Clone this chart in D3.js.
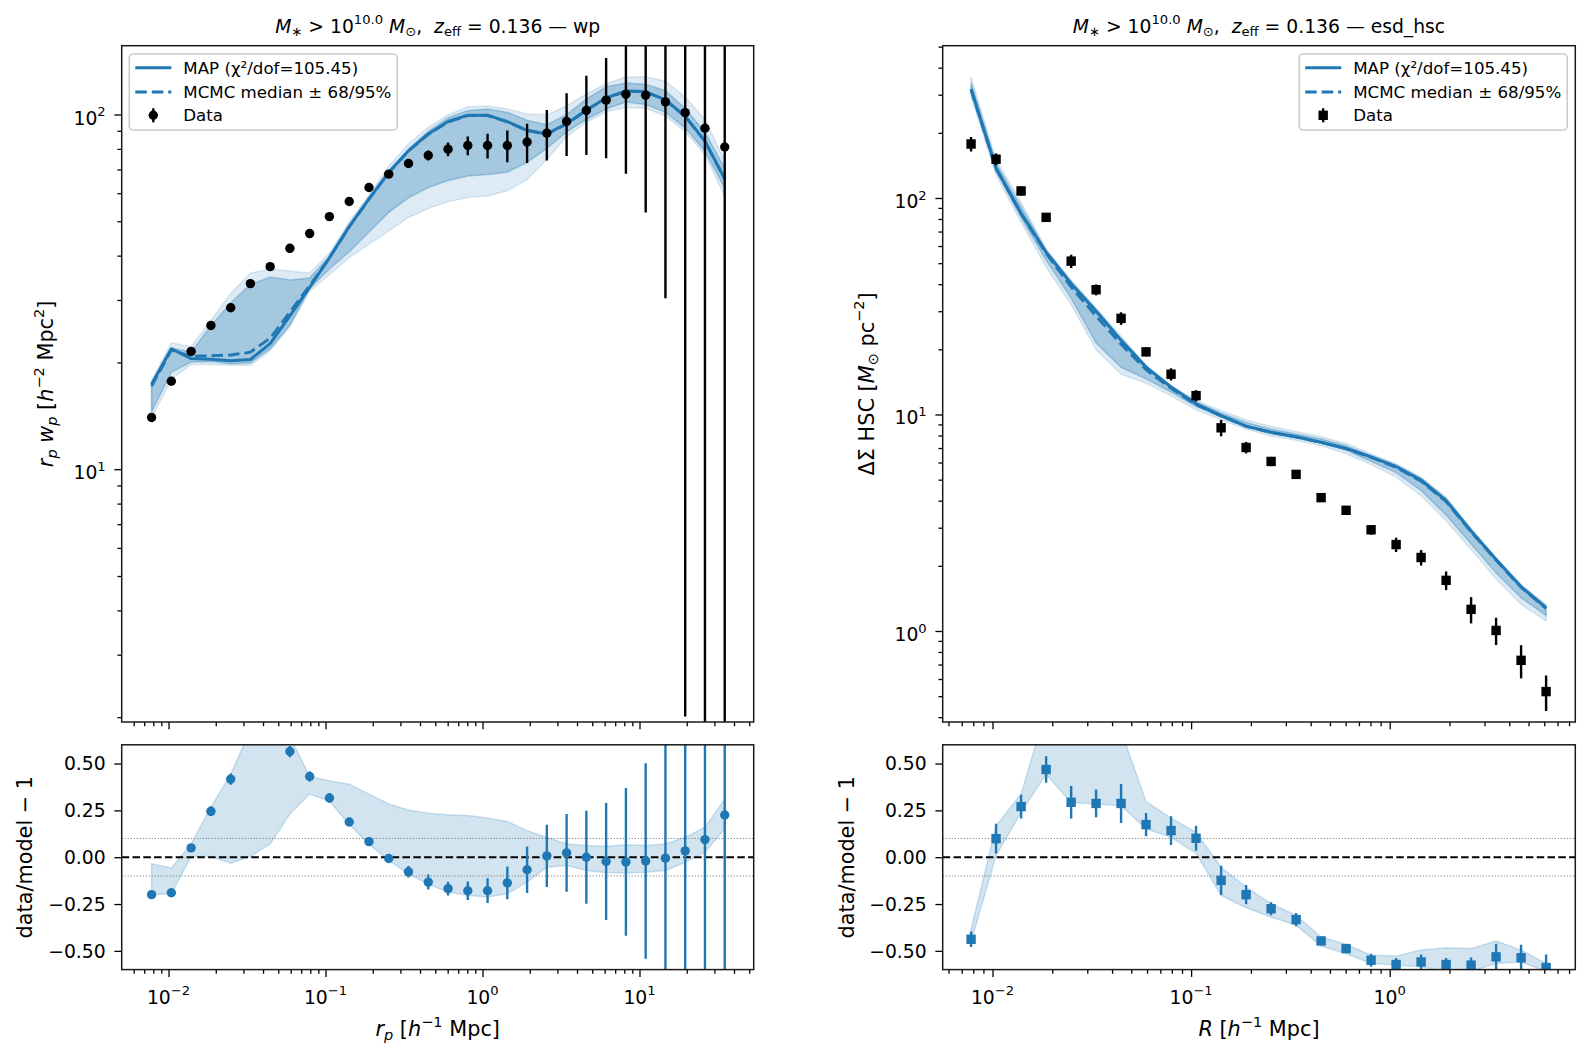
<!DOCTYPE html>
<html><head><meta charset="utf-8"><title>wp / esd_hsc fit</title>
<script src="https://cdn.jsdelivr.net/npm/d3@7/dist/d3.min.js"></script>
<style>
html,body{margin:0;padding:0;background:#fff;}
svg{display:block;font-family:"DejaVu Sans",sans-serif;}
text{white-space:pre;}
</style></head><body>
<svg id="fig" width="1589" height="1062" viewBox="0 0 1589 1062"></svg>
<script>
// ================= DATA =================
// projected radii (h^-1 Mpc), shared binning
const rpBins = [0.00780, 0.01042, 0.01393, 0.01862, 0.02489, 0.03323, 0.04440, 0.05930, 0.07925, 0.1059,
  0.1416, 0.1892, 0.2528, 0.3378, 0.4514, 0.6031, 0.8057, 1.077, 1.439, 1.923,
  2.569, 3.433, 4.587, 6.130, 8.194, 10.95, 14.63, 19.55, 26.12, 34.91];
const rBinsEsd = [0.00780, 0.01042, 0.01393, 0.01862, 0.02489, 0.03323, 0.04440, 0.05930, 0.07925, 0.1059,
  0.1416, 0.1892, 0.2528, 0.3378, 0.4514, 0.6031, 0.8057, 1.077, 1.439, 1.923,
  2.569, 3.433, 4.587, 6.130];

// ---- wp panel ----
const wpData = [13.99, 17.70, 21.48, 25.43, 28.53, 33.36, 37.25, 41.95, 46.17, 51.54, 56.86, 62.26, 67.90, 72.77, 76.69,
  79.84, 81.75, 81.75, 81.75, 83.63, 88.62, 95.58, 102.73, 109.78, 114.06, 113.30, 108.54, 101.21, 91.48, 80.98];
const wpErr = [0.39, 0.39, 0.49, 0.49, 0.58, 0.58, 0.68, 0.77, 0.87, 0.97, 1.06, 1.25, 1.44, 2.12, 2.5,
  3.56, 5.0, 6.54, 8.37, 10.58, 14.42, 19.2, 25.9, 34.5, 46.0, 60.4, 78.2, 99.2, 125.0, 154.0];
const wpMAP = [17.37, 21.86, 20.51, 20.41, 20.22, 20.39, 22.60, 27.04, 32.55, 39.47, 48.36, 57.85, 68.69, 79.09, 88.15,
  95.58, 99.57, 99.57, 95.49, 90.28, 88.15, 94.16, 102.92, 111.31, 116.56, 116.09, 109.88, 98.92, 84.15, 65.88];
const wpMedian = [17.13, 21.67, 20.80, 20.90, 20.99, 21.38, 23.41, 27.76, 32.93, 39.37, 48.18, 57.67, 68.48, 78.88, 87.86,
  95.30, 99.30, 99.30, 95.30, 90.08, 87.96, 93.97, 102.73, 111.12, 116.34, 115.87, 109.69, 98.73, 83.95, 65.61];
const wpHi68 = [17.46, 21.96, 21.40, 25.33, 29.47, 33.21, 34.81, 34.18, 34.61, 39.75, 48.47, 58.14, 69.15, 79.84, 89.58,
  97.97, 102.55, 103.69, 101.40, 96.34, 93.58, 99.97, 110.54, 119.68, 122.72, 121.77, 116.71, 103.98, 89.10, 70.50];
const wpLo68 = [14.50, 18.77, 20.06, 20.12, 19.82, 19.93, 21.86, 25.52, 32.35, 36.68, 41.00, 46.65, 52.97, 58.24, 62.26,
  65.14, 67.05, 67.72, 68.77, 73.26, 80.23, 89.28, 96.82, 103.69, 108.46, 106.74, 101.40, 91.57, 78.89, 61.97];
const wpHi95 = [17.80, 22.73, 22.15, 26.30, 31.30, 35.72, 36.69, 36.20, 35.72, 40.62, 49.82, 59.29, 71.53, 82.72, 92.06,
  99.78, 105.12, 105.60, 103.69, 100.35, 99.78, 105.79, 114.17, 122.26, 127.48, 127.67, 124.09, 112.07, 96.93, 74.15];
const wpLo95 = [13.94, 17.91, 19.73, 19.73, 19.64, 19.64, 21.57, 25.23, 31.77, 35.34, 39.47, 43.11, 46.94, 51.25, 54.33,
  56.73, 58.34, 58.91, 60.92, 65.63, 74.70, 86.54, 95.11, 101.78, 104.64, 104.16, 98.92, 89.39, 76.97, 58.81];
const wpResid = [-0.200, -0.190, 0.050, 0.245, 0.417, 0.640, 0.657, 0.564, 0.431, 0.316, 0.188, 0.083, -0.007, -0.078, -0.133,
  -0.168, -0.179, -0.179, -0.137, -0.067, 0.007, 0.023, 0.000, -0.023, -0.025, -0.020, -0.005, 0.034, 0.094, 0.225];
const wpResidErr = [0.02, 0.02, 0.02, 0.025, 0.03, 0.03, 0.03, 0.03, 0.027, 0.025, 0.022, 0.022, 0.022, 0.031, 0.040,
  0.037, 0.049, 0.066, 0.087, 0.124, 0.166, 0.208, 0.248, 0.312, 0.394, 0.522, 0.71, 1.0, 1.49, 2.34];
const wpResidLo = [-0.200, -0.195, 0.004, 0.004, -0.032, 0.004, 0.071, 0.230, 0.337, 0.300, 0.175, 0.071, -0.018, -0.089, -0.145,
  -0.186, -0.204, -0.213, -0.195, -0.133, -0.053, -0.044, -0.071, -0.083, -0.085, -0.080, -0.071, -0.027, 0.027, 0.151];
const wpResidHi = [-0.035, -0.057, 0.071, 0.266, 0.443, 0.680, 0.710, 0.645, 0.431, 0.408, 0.390, 0.337, 0.284, 0.252, 0.234,
  0.227, 0.222, 0.209, 0.191, 0.142, 0.106, 0.071, 0.062, 0.059, 0.067, 0.062, 0.071, 0.106, 0.160, 0.310];

// ---- esd_hsc panel ----
const esdData = [177.6, 151.1, 107.8, 81.4, 51.1, 37.7, 27.8, 19.47, 15.35, 12.22, 8.68, 7.04, 6.07, 5.29, 4.13,
  3.61, 2.934, 2.507, 2.185, 1.714, 1.259, 1.006, 0.732, 0.525];
const esdErr = [13.5, 9.6, 5.6, 3.9, 3.6, 2.2, 1.85, 0.92, 1.0, 0.73, 0.75, 0.43, 0.3, 0.25, 0.15,
  0.12, 0.15, 0.19, 0.18, 0.17, 0.175, 0.145, 0.128, 0.098];
const esdMAP = [318.7, 137.4, 85.0, 56.2, 40.2, 30.0, 22.0, 16.55, 13.4, 11.2, 9.88, 8.84, 8.28, 7.9, 7.45,
  6.97, 6.37, 5.75, 4.97, 4.0, 2.9, 2.137, 1.6, 1.28];
const esdMedian = [316.0, 136.5, 84.5, 55.4, 38.8, 28.5, 21.1, 16.1, 13.2, 11.1, 9.85, 8.82, 8.26, 7.88, 7.43,
  6.95, 6.33, 5.7, 4.92, 3.96, 2.87, 2.12, 1.59, 1.27];
const esdHi68 = [340.7, 144.8, 91.3, 57.3, 41.1, 30.6, 22.45, 16.7, 13.4, 11.45, 10.15, 9.19, 8.55, 8.12, 7.70,
  7.17, 6.46, 5.85, 5.07, 4.09, 2.935, 2.154, 1.62, 1.307];
const esdLo68 = [306.9, 133.5, 81.1, 51.6, 34.4, 21.4, 16.49, 14.6, 12.7, 10.9, 9.72, 8.76, 8.16, 7.78, 7.38,
  6.84, 6.07, 5.39, 4.46, 3.43, 2.52, 1.851, 1.425, 1.178];
const esdHi95 = [362.5, 150.4, 95.7, 58.1, 41.7, 31.0, 23.0, 16.9, 13.6, 11.65, 10.4, 9.45, 8.80, 8.35, 7.89,
  7.35, 6.59, 5.93, 5.14, 4.15, 2.977, 2.185, 1.643, 1.326];
const esdLo95 = [292.6, 127.3, 77.3, 48.0, 32.1, 19.9, 15.35, 13.96, 12.2, 10.5, 9.45, 8.55, 7.96, 7.60, 7.17,
  6.59, 5.87, 5.14, 4.21, 3.23, 2.38, 1.74, 1.326, 1.113];
const esdResid = [-0.438, 0.099, 0.270, 0.468, 0.293, 0.287, 0.287, 0.174, 0.142, 0.101, -0.124, -0.200, -0.275, -0.333, -0.447,
  -0.488, -0.550, -0.573, -0.559, -0.573, -0.576, -0.532, -0.537, -0.589];
const esdResidErr = [0.042, 0.079, 0.064, 0.071, 0.087, 0.074, 0.104, 0.062, 0.077, 0.067, 0.078, 0.051, 0.035, 0.035, 0.02,
  0.02, 0.035, 0.035, 0.04, 0.035, 0.04, 0.07, 0.07, 0.07];
const esdResidLo = [-0.452, 0.009, 0.239, 0.443, 0.290, 0.284, 0.275, 0.151, 0.106, 0.021, -0.204, -0.270, -0.319, -0.363, -0.475,
  -0.514, -0.567, -0.576, -0.585, -0.610, -0.610, -0.567, -0.559, -0.610];
const esdResidHi = [-0.385, 0.168, 0.337, 0.790, 0.850, 0.800, 0.675, 0.298, 0.209, 0.133, -0.053, -0.160, -0.248, -0.310, -0.426,
  -0.465, -0.523, -0.528, -0.496, -0.484, -0.488, -0.447, -0.496, -0.567];

// ---- axes settings ----
const xLimWp = [0.005032, 53.39];
const xLimEsd = [0.005613, 8.6];
const yLimWp = [1.938, 156.3];
const yLimEsd = [0.3799, 505.2];
const residLim = [-0.6, 0.6];
const xMajorWp = [0.01, 0.1, 1, 10];
const xMajorEsd = [0.01, 0.1, 1];
const yMajorWp = [10, 100];
const yMajorEsd = [1, 10, 100];
const residTicks = [-0.5, -0.25, 0, 0.25, 0.5];
const residTickLabels = ["\u22120.50", "\u22120.25", "0.00", "0.25", "0.50"];
const residBandLines = [-0.1, 0.1];
const legendLabels = ["MAP (\u03c7\u00b2/dof=105.45)", "MCMC median \u00b1 68/95%", "Data"];

// ================= LAYOUT / STYLE =================
const BLUE = "#1f77b4";
const FS = {tick: 18.75, label: 20.8, legend: 16.67, title: 18.75};
const TK = {major: 7.3, minor: 4.2, w: 1.3, pad: 16};
const AX = {
  wp:   {x0: 121.7, x1: 753.7, y0: 45.7, y1: 722},
  esd:  {x0: 942.7, x1: 1575.3, y0: 45.7, y1: 722},
  wpR:  {x0: 121.7, x1: 753.7, y0: 744.8, y1: 969.6},
  esdR: {x0: 942.7, x1: 1575.3, y0: 744.8, y1: 969.6}
};

const svg = d3.select("#fig");
const defs = svg.append("defs");
svg.append("rect").attr("width", 1589).attr("height", 1062).attr("fill", "#fff");

const xWp = d3.scaleLog().domain(xLimWp).range([AX.wp.x0, AX.wp.x1]);
const xEsd = d3.scaleLog().domain(xLimEsd).range([AX.esd.x0, AX.esd.x1]);
const yWp = d3.scaleLog().domain(yLimWp).range([AX.wp.y1, AX.wp.y0]);
const yEsd = d3.scaleLog().domain(yLimEsd).range([AX.esd.y1, AX.esd.y0]);
const yWpR = d3.scaleLinear().domain(residLim).range([AX.wpR.y1, AX.wpR.y0]);
const yEsdR = d3.scaleLinear().domain(residLim).range([AX.esdR.y1, AX.esdR.y0]);

function rich(sel, parts, fs) {
  let cur = 0;
  parts.forEach(p => {
    const [s, o] = typeof p === "string" ? [p, {}] : p;
    const t = sel.append("tspan").text(s);
    let shift = 0, size = fs;
    if (o.sup) { shift = -0.45 * fs; size = 0.7 * fs; }
    if (o.sub) { shift = 0.2 * fs; size = 0.7 * fs; }
    t.attr("font-size", size);
    if (shift !== cur) t.attr("dy", shift - cur);
    if (o.it) t.attr("font-style", "italic");
    cur = shift;
  });
  return sel;
}
function expParts(v) {
  const e = Math.round(Math.log10(v));
  return ["10", [e < 0 ? "\u2212" + (-e) : String(e), {sup: true}]];
}
function clipFor(id, a) {
  defs.append("clipPath").attr("id", id).append("rect")
    .attr("x", a.x0).attr("y", a.y0).attr("width", a.x1 - a.x0).attr("height", a.y1 - a.y0);
  return svg.append("g").attr("clip-path", `url(#${id})`);
}
function isMajor(v, majors) { return majors.some(m => Math.abs(Math.log10(v / m)) < 1e-6); }

function styleAxis(s) {
  s.select(".domain").remove();
  s.selectAll("line").attr("stroke", "#000").attr("stroke-width", TK.w);
  s.selectAll("text").remove();
}
function xAxisLog(scale, a, majors, labels) {
  const minors = scale.ticks().filter(v => !isMajor(v, majors));
  svg.append("g").attr("transform", `translate(0,${a.y1})`)
    .call(d3.axisBottom(scale).tickValues(minors).tickSize(TK.minor).tickSizeOuter(0)).call(styleAxis);
  svg.append("g").attr("transform", `translate(0,${a.y1})`)
    .call(d3.axisBottom(scale).tickValues(majors).tickSize(TK.major).tickSizeOuter(0)).call(styleAxis);
  if (labels) majors.forEach(v => {
    rich(svg.append("text").attr("x", scale(v)).attr("y", a.y1 + 34).attr("text-anchor", "middle")
      .attr("font-size", FS.tick).attr("fill", "#000"), expParts(v), FS.tick);
  });
}
function yAxisLog(scale, a, majors) {
  const minors = scale.ticks().filter(v => !isMajor(v, majors));
  svg.append("g").attr("transform", `translate(${a.x0},0)`)
    .call(d3.axisLeft(scale).tickValues(minors).tickSize(TK.minor).tickSizeOuter(0)).call(styleAxis);
  svg.append("g").attr("transform", `translate(${a.x0},0)`)
    .call(d3.axisLeft(scale).tickValues(majors).tickSize(TK.major).tickSizeOuter(0)).call(styleAxis);
  majors.forEach(v => {
    rich(svg.append("text").attr("x", a.x0 - TK.pad).attr("y", scale(v) + 10).attr("text-anchor", "end")
      .attr("font-size", FS.tick).attr("fill", "#000"), expParts(v), FS.tick);
  });
}
function yAxisLin(scale, a) {
  svg.append("g").attr("transform", `translate(${a.x0},0)`)
    .call(d3.axisLeft(scale).tickValues(residTicks).tickSize(TK.major).tickSizeOuter(0)).call(styleAxis);
  residTicks.forEach((v, i) => {
    svg.append("text").attr("x", a.x0 - TK.pad).attr("y", scale(v) + 6.8).attr("text-anchor", "end")
      .attr("font-size", FS.tick).attr("fill", "#000").text(residTickLabels[i]);
  });
}
function spine(a) {
  svg.append("rect").attr("x", a.x0).attr("y", a.y0).attr("width", a.x1 - a.x0).attr("height", a.y1 - a.y0)
    .attr("fill", "none").attr("stroke", "#1a1a1a").attr("stroke-width", 1.5);
}

function band(g, xS, yS, xs, lo, hi, op) {
  const idx = xs.map((_, i) => i);
  const ar = d3.area().x(i => xS(xs[i])).y0(i => yS(lo[i])).y1(i => yS(hi[i]));
  g.append("path").attr("d", ar(idx)).attr("fill", BLUE).attr("fill-opacity", op)
    .attr("stroke", BLUE).attr("stroke-opacity", op).attr("stroke-width", 1.5);
}
function curve(g, xS, yS, xs, ys, dash) {
  const ln = d3.line().x((d, i) => xS(xs[i])).y(d => yS(d));
  const p = g.append("path").attr("d", ln(ys)).attr("fill", "none").attr("stroke", BLUE)
    .attr("stroke-width", 3).attr("stroke-linejoin", "round");
  if (dash) p.attr("stroke-dasharray", "11.5,5").attr("stroke-width", 2.8);
}
function points(g, xS, yS, xs, ys, es, color, shape, isLog) {
  const bottom = yS.range()[0] + 40, top = yS.range()[1] - 40;
  xs.forEach((x, i) => {
    const cx = xS(x);
    const lo = ys[i] - es[i], hi = ys[i] + es[i];
    const y1 = isLog ? (lo > 0 ? yS(lo) : bottom) : yS(lo);
    const y2 = yS(hi);
    g.append("line").attr("x1", cx).attr("x2", cx).attr("y1", Math.min(y1, bottom)).attr("y2", Math.max(y2, top))
      .attr("stroke", color).attr("stroke-width", 2.4);
  });
  xs.forEach((x, i) => {
    const cx = xS(x), cy = yS(ys[i]);
    if (shape === "o") g.append("circle").attr("cx", cx).attr("cy", cy).attr("r", 4.7).attr("fill", color);
    else g.append("rect").attr("x", cx - 4.7).attr("y", cy - 4.7).attr("width", 9.4).attr("height", 9.4).attr("fill", color);
  });
}
function legend(bx, by, shape) {
  const g = svg.append("g");
  g.append("rect").attr("x", bx).attr("y", by).attr("width", 268).attr("height", 76).attr("rx", 4)
    .attr("fill", "#fff").attr("fill-opacity", 0.8).attr("stroke", "#cccccc").attr("stroke-width", 1.6);
  const hx0 = bx + 6, hx1 = bx + 42, hc = bx + 24, tx = bx + 54;
  const rows = [by + 13.7, by + 38, by + 61.3];
  g.append("line").attr("x1", hx0).attr("x2", hx1).attr("y1", rows[0]).attr("y2", rows[0])
    .attr("stroke", BLUE).attr("stroke-width", 3);
  g.append("line").attr("x1", hx0).attr("x2", hx1).attr("y1", rows[1]).attr("y2", rows[1])
    .attr("stroke", BLUE).attr("stroke-width", 2.8).attr("stroke-dasharray", "11.5,5");
  g.append("line").attr("x1", hc).attr("x2", hc).attr("y1", rows[2] - 7).attr("y2", rows[2] + 7)
    .attr("stroke", "#000").attr("stroke-width", 2.4);
  if (shape === "o") g.append("circle").attr("cx", hc).attr("cy", rows[2]).attr("r", 4.7).attr("fill", "#000");
  else g.append("rect").attr("x", hc - 4.7).attr("y", rows[2] - 4.7).attr("width", 9.4).attr("height", 9.4).attr("fill", "#000");
  legendLabels.forEach((t, i) => {
    g.append("text").attr("x", tx).attr("y", rows[i] + 6).attr("font-size", FS.legend).attr("fill", "#000").text(t);
  });
}

// ================= TOP: wp =================
{
  const g = clipFor("cWp", AX.wp);
  band(g, xWp, yWp, rpBins, wpLo95, wpHi95, 0.15);
  band(g, xWp, yWp, rpBins, wpLo68, wpHi68, 0.3);
  curve(g, xWp, yWp, rpBins, wpMedian, true);
  curve(g, xWp, yWp, rpBins, wpMAP, false);
  points(g, xWp, yWp, rpBins, wpData, wpErr, "#000", "o", true);
  xAxisLog(xWp, AX.wp, xMajorWp, false);
  yAxisLog(yWp, AX.wp, yMajorWp);
  spine(AX.wp);
  legend(129.3, 54, "o");
}
// ================= TOP: esd =================
{
  const g = clipFor("cEsd", AX.esd);
  band(g, xEsd, yEsd, rBinsEsd, esdLo95, esdHi95, 0.15);
  band(g, xEsd, yEsd, rBinsEsd, esdLo68, esdHi68, 0.3);
  curve(g, xEsd, yEsd, rBinsEsd, esdMedian, true);
  curve(g, xEsd, yEsd, rBinsEsd, esdMAP, false);
  points(g, xEsd, yEsd, rBinsEsd, esdData, esdErr, "#000", "s", true);
  xAxisLog(xEsd, AX.esd, xMajorEsd, false);
  yAxisLog(yEsd, AX.esd, yMajorEsd);
  spine(AX.esd);
  legend(1299.2, 54, "s");
}
// ================= RESIDUALS =================
function residPanel(id, a, xS, yS, xs, res, err, lo, hi, shape) {
  const g = clipFor(id, a);
  band(g, xS, yS, xs, lo, hi, 0.2);
  residBandLines.forEach(v => g.append("line").attr("x1", a.x0).attr("x2", a.x1).attr("y1", yS(v)).attr("y2", yS(v))
    .attr("stroke", "#808080").attr("stroke-width", 1).attr("stroke-dasharray", "1.2,1.8"));
  g.append("line").attr("x1", a.x0).attr("x2", a.x1).attr("y1", yS(0)).attr("y2", yS(0))
    .attr("stroke", "#000").attr("stroke-width", 2).attr("stroke-dasharray", "7.5,3.3");
  points(g, xS, yS, xs, res, err, BLUE, shape, false);
  xAxisLog(xS, a, xS === xWp ? xMajorWp : xMajorEsd, true);
  yAxisLin(yS, a);
  spine(a);
}
residPanel("cWpR", AX.wpR, xWp, yWpR, rpBins, wpResid, wpResidErr, wpResidLo, wpResidHi, "o");
residPanel("cEsdR", AX.esdR, xEsd, yEsdR, rBinsEsd, esdResid, esdResidErr, esdResidLo, esdResidHi, "s");

// ================= TEXT =================
function title(cx, extra) {
  rich(svg.append("text").attr("x", cx).attr("y", 32.5).attr("text-anchor", "middle").attr("font-size", FS.title).attr("fill", "#000"),
    [["M", {it: true}], ["\u2217", {sub: true}], " > 10", ["10.0", {sup: true}], " ", ["M", {it: true}], ["\u2299", {sub: true}],
     ",  ", ["z", {it: true}], ["eff", {sub: true}], " = 0.136 \u2014 " + extra], FS.title);
}
title((AX.wp.x0 + AX.wp.x1) / 2, "wp");
title((AX.esd.x0 + AX.esd.x1) / 2, "esd_hsc");

function ylab(x, y, parts) {
  rich(svg.append("text").attr("transform", `translate(${x},${y}) rotate(-90)`).attr("text-anchor", "middle")
    .attr("font-size", FS.label).attr("fill", "#000"), parts, FS.label);
}
ylab(53, (AX.wp.y0 + AX.wp.y1) / 2, [["r", {it: true}], ["p", {it: true, sub: true}], " ", ["w", {it: true}], ["p", {it: true, sub: true}],
  " [", ["h", {it: true}], ["\u22122", {sup: true}], " Mpc", ["2", {sup: true}], "]"]);
ylab(873.5, (AX.esd.y0 + AX.esd.y1) / 2, ["\u0394\u03a3 HSC [", ["M", {it: true}], ["\u2299", {sub: true}], " pc", ["\u22122", {sup: true}], "]"]);
ylab(31.6, (AX.wpR.y0 + AX.wpR.y1) / 2, ["data/model \u2212 1"]);
ylab(853.6, (AX.esdR.y0 + AX.esdR.y1) / 2, ["data/model \u2212 1"]);

function xlab(cx, parts) {
  rich(svg.append("text").attr("x", cx).attr("y", 1036).attr("text-anchor", "middle").attr("font-size", FS.label).attr("fill", "#000"), parts, FS.label);
}
xlab((AX.wpR.x0 + AX.wpR.x1) / 2, [["r", {it: true}], ["p", {it: true, sub: true}], " [", ["h", {it: true}], ["\u22121", {sup: true}], " Mpc]"]);
xlab((AX.esdR.x0 + AX.esdR.x1) / 2, [["R", {it: true}], " [", ["h", {it: true}], ["\u22121", {sup: true}], " Mpc]"]);
</script></body></html>
